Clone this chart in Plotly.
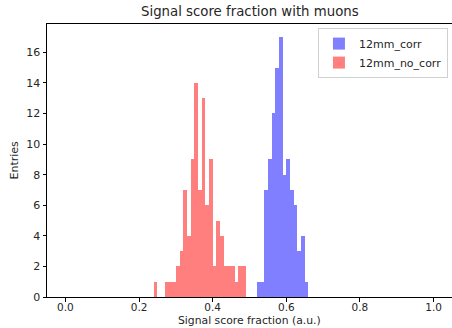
import plotly.graph_objects as go

# Histogram data: bins of width 0.01 on [0, 1]
bin_width = 0.01

corr_bin_left = [0.52, 0.53, 0.54, 0.55, 0.56, 0.57, 0.58, 0.59, 0.60, 0.61, 0.62, 0.63, 0.64, 0.65]
corr_counts   = [1,    1,    7,    9,    12,   15,   17,   8,    9,    7,    6,    3,    4,    1]

nocorr_bin_left = [0.24, 0.27, 0.28, 0.29, 0.30, 0.31, 0.32, 0.33, 0.34, 0.35, 0.36, 0.37,
                   0.38, 0.39, 0.40, 0.41, 0.42, 0.43, 0.44, 0.45, 0.46, 0.47, 0.48]
nocorr_counts   = [1,    1,    1,    1,    2,    3,    7,    4,    9,    14,   7,    13,
                   6,    9,    2,    5,    4,    2,    2,    2,    1,    2,    2]

x_ticks = [0.0, 0.2, 0.4, 0.6, 0.8, 1.0]
x_tick_labels = ["0.0", "0.2", "0.4", "0.6", "0.8", "1.0"]
y_ticks = [0, 2, 4, 6, 8, 10, 12, 14, 16]

FONT = "DejaVu Sans"
TXT = "#262626"
FS = 11

fig = go.Figure()
fig.add_trace(go.Bar(
    x=[b + bin_width / 2 for b in corr_bin_left], y=corr_counts, width=bin_width,
    name="12mm_corr", marker=dict(color="rgba(0,0,255,0.5)", line=dict(width=0)),
))
fig.add_trace(go.Bar(
    x=[b + bin_width / 2 for b in nocorr_bin_left], y=nocorr_counts, width=bin_width,
    name="12mm_no_corr", marker=dict(color="rgba(255,0,0,0.5)", line=dict(width=0)),
))

ymax = max(max(corr_counts), max(nocorr_counts)) * 1.05

fig.update_layout(
    width=452, height=328,
    margin=dict(l=47, r=0, t=24, b=31),
    paper_bgcolor="white", plot_bgcolor="white",
    barmode="overlay", bargap=0,
    font=dict(family=FONT, size=FS, color=TXT),
    showlegend=True,
    legend=dict(
        x=0.99, y=0.985, xanchor="right", yanchor="top",
        bgcolor="rgba(255,255,255,0.8)", bordercolor="#d0d0d0", borderwidth=1,
        font=dict(family=FONT, size=FS, color=TXT),
        itemwidth=30, tracegroupgap=0,
    ),
    xaxis=dict(
        range=[-0.05, 1.05], tickvals=x_ticks, ticktext=x_tick_labels,
        ticks="outside", ticklen=3.5, tickwidth=1, tickcolor="black",
        showline=True, linecolor="black", linewidth=1, mirror=True,
        showgrid=False, zeroline=False, ticklabelstandoff=-3,
        tickfont=dict(family=FONT, size=10.5, color=TXT),
    ),
    yaxis=dict(
        range=[0, ymax], tickvals=y_ticks,
        ticks="outside", ticklen=3.5, tickwidth=1, tickcolor="black",
        showline=True, linecolor="black", linewidth=1, mirror=True,
        showgrid=False, zeroline=False,
        tickfont=dict(family=FONT, size=FS, color=TXT),
    ),
    annotations=[
        dict(text="Signal score fraction with muons", x=0.5, y=12, xref="paper", yref="paper",
             showarrow=False, font=dict(family=FONT, size=13.3, color=TXT)),
        dict(text="Signal score fraction (a.u.)", x=0.5, y=0, xref="paper", yref="paper",
             showarrow=False, borderpad=0, font=dict(family=FONT, size=10.8, color=TXT)),
        dict(text="Entries", x=0, y=0.5, xref="paper", yref="paper", textangle=-90,
             showarrow=False, font=dict(family=FONT, size=FS, color=TXT)),
    ],
)

# position annotations in pixels relative to plot area
plot_h = 328 - 24 - 31
plot_w = 452 - 47
fig.layout.annotations[0].update(y=1 + (24 - 12) / plot_h, yanchor="middle")
fig.layout.annotations[1].update(y=-(328 - 297) / plot_h, yanchor="bottom", yshift=0)
fig.layout.annotations[2].update(x=-(47 - 14) / plot_w, xanchor="center", yanchor="middle")

fig.write_html("out.html")
